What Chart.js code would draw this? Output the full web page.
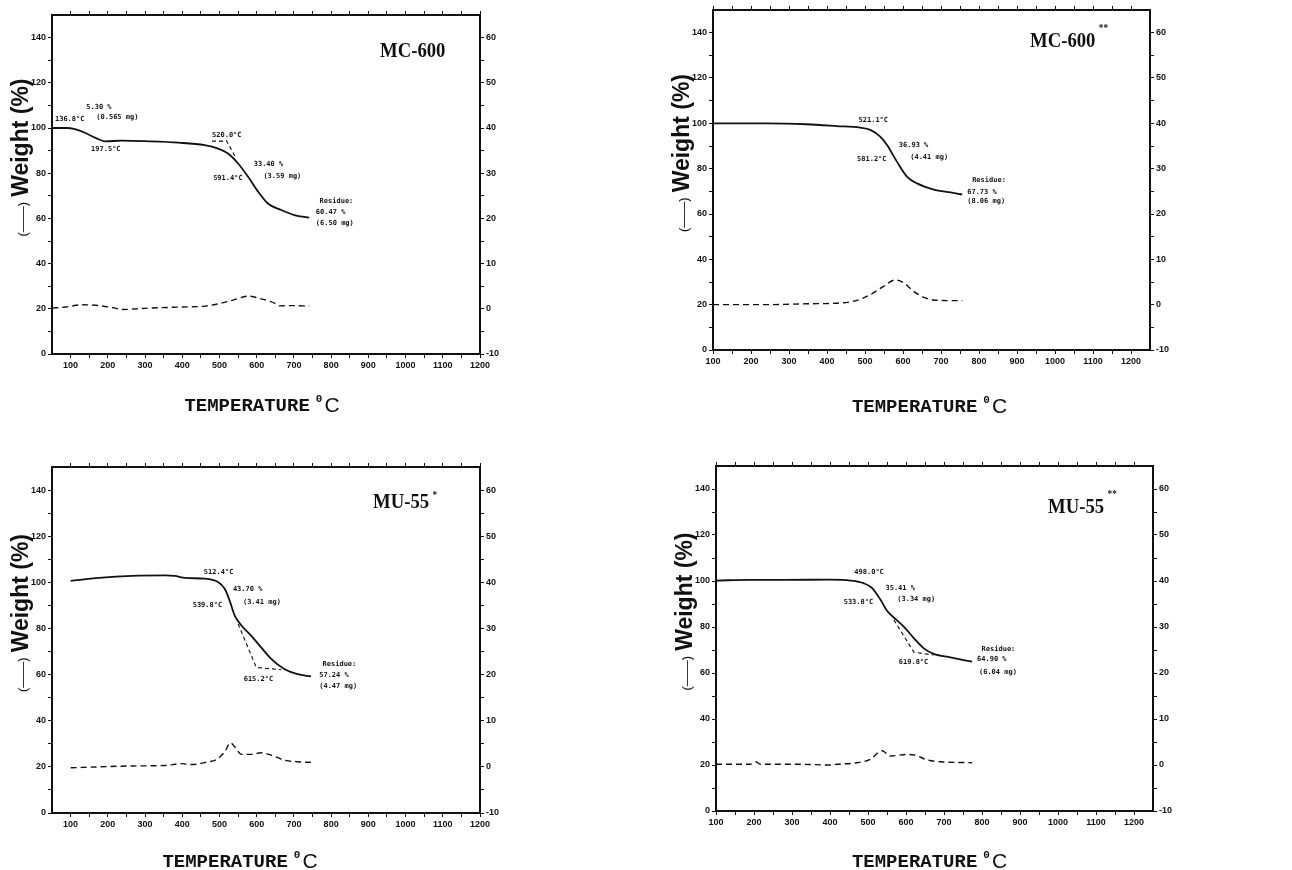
<!DOCTYPE html>
<html>
<head>
<meta charset="utf-8">
<title>TGA curves</title>
<script src="https://cdn.jsdelivr.net/npm/chart.js@4.4.1/dist/chart.umd.min.js"></script>
<style>
  html, body { margin: 0; padding: 0; background: #fff; }
  body { width: 1292px; height: 870px; position: relative; overflow: hidden; }
  canvas { position: absolute; }
</style>
</head>
<body>
<canvas id="c1" width="646" height="420" style="left:0;top:0"></canvas>
<canvas id="c2" width="646" height="420" style="left:646px;top:0"></canvas>
<canvas id="c3" width="646" height="450" style="left:0;top:420px"></canvas>
<canvas id="c4" width="646" height="450" style="left:646px;top:420px"></canvas>
<script>
// ticks shared by all panels
const weightTicks = [0, 20, 40, 60, 80, 100, 120, 140];
const rateTicks = [-10, 0, 10, 20, 30, 40, 50, 60];
const tempTicks = [100, 200, 300, 400, 500, 600, 700, 800, 900, 1000, 1100, 1200];

// MC-600
const mc600Temp = [50, 91, 109, 140, 167, 193, 238, 309, 389, 460, 496, 523, 550, 577, 604, 630, 666, 701, 741];
const mc600Weight = [100, 100, 99.6, 97.8, 95.6, 94.1, 94.4, 94.1, 93.5, 92.4, 90.9, 88.7, 84.3, 78.4, 71.8, 66.6, 63.7, 61.5, 60.3];
const mc600DtgTemp = [51, 87, 131, 176, 220, 238, 309, 398, 461, 496, 532, 578, 612, 648, 661, 692, 741];
const mc600Dtg = [0.15, 0.4, 0.9, 0.7, 0.15, -0.15, 0.15, 0.4, 0.6, 1.1, 1.8, 2.8, 2.2, 1.25, 0.65, 0.7, 0.6];
const mc600TanTemp = [480, 515, 516, 518, 545];
const mc600TanWeight = [94.2, 94.2, null, 94.6, 86.5];
const mc600Notes = [
  [58, 104, '136.8°C'], [142, 109.4, '5.30 %'], [169, 104.7, '(0.565 mg)'], [155, 90.7, '197.5°C'],
  [480, 96.6, '520.0°C'], [483, 77.8, '591.4°C'], [592, 84.1, '33.40 %'], [618, 78.5, '(3.59 mg)'],
  [769, 67.5, 'Residue:'], [759, 62.9, '60.47 %'], [759, 57.9, '(6.50 mg)']
];

// MC-600**
const mc600bTemp = [100, 241, 346, 426, 487, 514, 540, 558, 584, 611, 637, 681, 725, 756];
const mc600bWeight = [100, 100, 99.6, 98.8, 98.1, 97.1, 94.1, 90.4, 83.1, 76.4, 73.5, 70.8, 69.5, 68.6];
const mc600bDtgTemp = [100, 241, 346, 435, 479, 514, 549, 580, 602, 628, 655, 690, 756];
const mc600bDtg = [0, 0, 0.2, 0.37, 0.96, 2.2, 4.05, 5.45, 4.8, 2.95, 1.6, 0.96, 0.88];
const mc600bNotes = [
  [483, 101.5, '521.1°C'], [589, 90.2, '36.93 %'], [619, 85, '(4.41 mg)'], [479, 84, '581.2°C'],
  [782, 75, 'Residue:'], [769, 69.5, '67.73 %'], [769, 65.5, '(8.06 mg)']
];

// MU-55*
const mu55Temp = [100, 176, 265, 354, 380, 407, 461, 496, 514, 527, 541, 559, 585, 612, 639, 674, 710, 746];
const mu55Weight = [100.6, 101.9, 102.8, 103.0, 102.8, 101.9, 101.6, 100.1, 97.2, 92.2, 85.6, 81.3, 76.9, 71.8, 66.8, 62.4, 60.2, 59.2];
const mu55DtgTemp = [100, 176, 265, 354, 398, 425, 461, 496, 514, 530, 541, 559, 585, 612, 639, 674, 710, 750];
const mu55Dtg = [-0.2, 0, 0.2, 0.3, 0.7, 0.5, 0.95, 1.8, 3.3, 5.2, 4.35, 2.7, 2.7, 3.05, 2.55, 1.45, 1.1, 0.95];
const mu55TanTemp = [550, 599, 666];
const mu55TanWeight = [82, 63.1, 62.1];
const mu55Notes = [
  [458, 104.2, '512.4°C'], [536, 97.0, '43.70 %'], [563, 91.4, '(3.41 mg)'], [428, 90.0, '539.8°C'],
  [565, 57.8, '615.2°C'], [777, 64.6, 'Residue:'], [768, 59.8, '57.24 %'], [768, 54.9, '(4.47 mg)']
];

// MU-55**
const mu55bTemp = [100, 190, 278, 401, 454, 489, 511, 533, 550, 572, 594, 621, 647, 673, 717, 774];
const mu55bWeight = [100.2, 100.5, 100.5, 100.6, 100.2, 99.0, 96.9, 91.8, 87.1, 83.5, 80.2, 75.1, 70.7, 68.3, 66.8, 64.9];
const mu55bDtgTemp = [100, 190, 204, 217, 322, 401, 419, 471, 506, 537, 559, 603, 621, 656, 691, 774];
const mu55bDtg = [0.15, 0.15, 0.7, 0.15, 0.15, 0, 0.15, 0.5, 1.2, 3.1, 1.95, 2.3, 2.2, 1.1, 0.7, 0.5];
const mu55bTanTemp = [568, 621, 673];
const mu55bTanWeight = [83.1, 69.0, 67.8];
const mu55bNotes = [
  [464, 103.7, '498.0°C'], [546, 96.9, '35.41 %'], [577, 92.1, '(3.34 mg)'], [436, 90.6, '533.8°C'],
  [581, 64.5, '619.8°C'], [799, 70.3, 'Residue:'], [787, 65.9, '64.90 %'], [792, 60.3, '(6.04 mg)']
];

const ink = '#111';
const tickFont = { family: 'Liberation Sans', size: 9, weight: 'bold' };

function points(xs, ys) {
  return xs.map((x, i) => ({ x: x, y: ys[i] }));
}

// major ticks plus one minor tick between each pair
function withMinor(major, min, max) {
  const all = [];
  major.forEach((v, i) => {
    all.push(v);
    if (i < major.length - 1) all.push((v + major[i + 1]) / 2);
  });
  return all.filter(v => v >= min && v <= max);
}

function linearAxis(position, min, max, major, size, showLabels) {
  const horizontal = position === 'top' || position === 'bottom';
  return {
    type: 'linear',
    position: position,
    min: min,
    max: max,
    afterBuildTicks: s => { s.ticks = withMinor(major, min, max).map(v => ({ value: v })); },
    afterFit: s => { if (horizontal) s.height = size; else s.width = size; },
    ticks: {
      display: showLabels,
      autoSkip: false,
      maxRotation: 0,
      padding: 2,
      color: ink,
      font: tickFont,
      callback: v => major.includes(v) ? String(v) : ''
    },
    grid: { drawOnChartArea: false, drawTicks: true, tickLength: 4, color: ink, lineWidth: 1 },
    border: { display: true, color: ink, width: 2 }
  };
}

// titles, sample name and the small annotations
const panelText = {
  id: 'panelText',
  afterDraw(chart, args, opts) {
    const ctx = chart.ctx;
    const a = chart.chartArea;
    const sx = chart.scales.x, sy = chart.scales.y;
    ctx.save();
    ctx.fillStyle = ink;

    ctx.font = 'bold 7px "DejaVu Sans Mono"';
    ctx.textAlign = 'left';
    ctx.textBaseline = 'middle';
    opts.notes.forEach(n => {
      ctx.fillText(n[2], sx.getPixelForValue(n[0]), sy.getPixelForValue(n[1]));
    });

    // sample name
    ctx.textBaseline = 'alphabetic';
    ctx.save();
    ctx.translate(a.right - opts.labelDx, a.top + opts.labelDy);
    ctx.scale(0.85, 1);
    ctx.font = 'bold 22px "Liberation Serif"';
    ctx.fillText(opts.label, 0, 0);
    const lw = ctx.measureText(opts.label).width;
    ctx.font = 'bold 11px "Liberation Serif"';
    ctx.fillText(opts.sup, lw + 4, -opts.supDy);
    ctx.restore();

    // x title
    ctx.font = 'bold 19px "Liberation Mono"';
    const w1 = ctx.measureText('TEMPERATURE').width;
    ctx.font = 'bold 11px "Liberation Mono"';
    const w2 = ctx.measureText('0').width;
    ctx.font = '21px "Liberation Sans"';
    const w3 = ctx.measureText('C').width;
    const gap = 6;
    const x0 = (a.left + a.right) / 2 + opts.titleDx - (w1 + gap + w2 + 2 + w3) / 2;
    const yb = a.bottom + opts.titleDy;
    ctx.font = 'bold 19px "Liberation Mono"';
    ctx.fillText('TEMPERATURE', x0, yb);
    ctx.font = 'bold 11px "Liberation Mono"';
    ctx.fillText('0', x0 + w1 + gap, yb - 9);
    ctx.font = '21px "Liberation Sans"';
    ctx.fillText('C', x0 + w1 + gap + w2 + 2, yb + 1);

    // y title, read bottom to top
    ctx.save();
    ctx.translate(a.left - 30, (a.top + a.bottom) / 2 - 27);
    ctx.rotate(-Math.PI / 2);
    ctx.textBaseline = 'middle';
    ctx.font = '13px "Liberation Sans"';
    const wd = ctx.measureText('(——)').width;
    ctx.font = 'bold 23px "Liberation Sans"';
    const ww = ctx.measureText('Weight (%)').width;
    const start = -(wd + 5 + ww) / 2;
    ctx.font = '13px "Liberation Sans"';
    ctx.fillText('(——)', start, 1);
    ctx.font = 'bold 23px "Liberation Sans"';
    ctx.fillText('Weight (%)', start + wd + 5, 0);
    ctx.restore();

    ctx.restore();
  }
};

function makePanel(p) {
  const a = p.area;
  const datasets = [
    { data: points(p.tgaT, p.tgaW), yAxisID: 'y', borderColor: ink, borderWidth: 1.8, cubicInterpolationMode: 'monotone' },
    { data: points(p.dtgT, p.dtgR), yAxisID: 'y2', borderColor: ink, borderWidth: 1.4, borderDash: [6, 4], cubicInterpolationMode: 'monotone' }
  ];
  if (p.tanT) {
    datasets.push({ data: points(p.tanT, p.tanW), yAxisID: 'y', borderColor: ink, borderWidth: 1.1, borderDash: [4, 3], tension: 0 });
  }

  new Chart(document.getElementById(p.id), {
    type: 'line',
    data: { datasets: datasets },
    options: {
      responsive: false,
      animation: false,
      parsing: true,
      elements: { point: { radius: 0 }, line: { fill: false } },
      layout: {
        padding: { left: 0, top: a.t - 4, right: p.w - a.r - 30, bottom: p.h - a.b - 20 }
      },
      plugins: {
        legend: { display: false },
        tooltip: { enabled: false },
        panelText: p.text
      },
      scales: {
        x: linearAxis('bottom', p.xMin, p.xMax, tempTicks, 20, true),
        xt: linearAxis('top', p.xMin, p.xMax, tempTicks, 4, false),
        y: linearAxis('left', 0, 150, weightTicks, a.l, true),
        y2: linearAxis('right', -10, 65, rateTicks, 30, true)
      }
    },
    plugins: [panelText]
  });
}

makePanel({
  id: 'c1', w: 646, h: 420, area: { l: 52, r: 480, t: 15, b: 354 }, xMin: 50, xMax: 1200,
  tgaT: mc600Temp, tgaW: mc600Weight, dtgT: mc600DtgTemp, dtgR: mc600Dtg, tanT: mc600TanTemp, tanW: mc600TanWeight,
  text: { notes: mc600Notes, label: 'MC-600', sup: '', supDy: 0, labelDx: 100, labelDy: 42, titleDx: -4, titleDy: 57 }
});
makePanel({
  id: 'c2', w: 646, h: 420, area: { l: 67, r: 504, t: 10, b: 350 }, xMin: 100, xMax: 1250,
  tgaT: mc600bTemp, tgaW: mc600bWeight, dtgT: mc600bDtgTemp, dtgR: mc600bDtg,
  text: { notes: mc600bNotes, label: 'MC-600', sup: '**', supDy: 16, labelDx: 120, labelDy: 37, titleDx: -2, titleDy: 62 }
});
makePanel({
  id: 'c3', w: 646, h: 450, area: { l: 52, r: 480, t: 47, b: 393 }, xMin: 50, xMax: 1200,
  tgaT: mu55Temp, tgaW: mu55Weight, dtgT: mu55DtgTemp, dtgR: mu55Dtg, tanT: mu55TanTemp, tanW: mu55TanWeight,
  text: { notes: mu55Notes, label: 'MU-55', sup: '*', supDy: 10, labelDx: 107, labelDy: 41, titleDx: -26, titleDy: 54 }
});
makePanel({
  id: 'c4', w: 646, h: 450, area: { l: 70, r: 507, t: 46, b: 391 }, xMin: 100, xMax: 1250,
  tgaT: mu55bTemp, tgaW: mu55bWeight, dtgT: mu55bDtgTemp, dtgR: mu55bDtg, tanT: mu55bTanTemp, tanW: mu55bTanWeight,
  text: { notes: mu55bNotes, label: 'MU-55', sup: '**', supDy: 16, labelDx: 105, labelDy: 47, titleDx: -5, titleDy: 56 }
});
</script>
</body>
</html>
